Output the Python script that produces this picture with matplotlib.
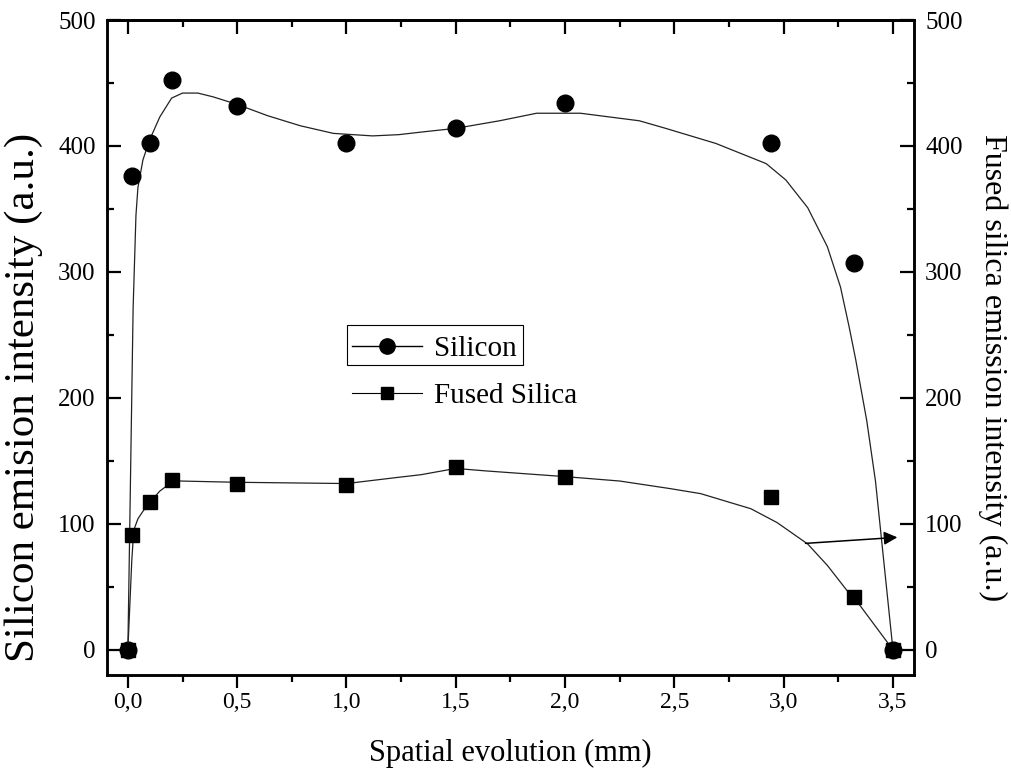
import numpy as np
import matplotlib.pyplot as plt
from matplotlib.lines import Line2D
from matplotlib.patches import Rectangle

plt.rcParams['font.family'] = ['Liberation Serif', 'DejaVu Serif']

# measured points
x_pts = [0.0, 0.02, 0.10, 0.20, 0.50, 1.0, 1.5, 2.0, 2.94, 3.32, 3.50]
silicon_pts = [0, 376, 402, 452, 432, 402, 414, 434, 402, 307, 0]
silica_pts = [0, 91, 117, 135, 132, 131, 145.5, 137.5, 121, 42, 0]

# smoothed curves
si_curve_x = [0.0, 0.014, 0.024, 0.037, 0.046, 0.069, 0.10, 0.146, 0.20, 0.25, 0.32, 0.39,
              0.50, 0.64, 0.79, 0.94, 1.12, 1.24, 1.34, 1.50, 1.70, 1.87, 2.07, 2.34,
              2.46, 2.69, 2.92, 3.01, 3.11, 3.20, 3.26, 3.30, 3.33, 3.38, 3.42, 3.46, 3.50]
si_curve_y = [0, 158, 271, 345, 367, 389, 405, 423, 438, 442, 442, 439,
              433, 424, 416, 410, 408, 409, 411, 414, 420, 426, 426, 420,
              414, 402, 386, 373, 351, 320, 288, 256, 230, 182, 134, 67, 0]

fs_curve_x = [0.0, 0.018, 0.027, 0.046, 0.069, 0.10, 0.146, 0.20, 0.24, 0.50, 1.0, 1.24,
              1.34, 1.50, 1.64, 2.0, 2.25, 2.48, 2.62, 2.85, 2.97, 3.11, 3.20, 3.29, 3.32, 3.50]
fs_curve_y = [0, 71, 95, 104, 110, 117, 126, 133, 134, 133, 132, 137,
              139, 144, 142, 137.5, 134, 128, 124, 112, 101, 84, 67, 47, 42, 0]

x_ticks = [0.0, 0.5, 1.0, 1.5, 2.0, 2.5, 3.0, 3.5]
x_ticklabels = ['0,0', '0,5', '1,0', '1,5', '2,0', '2,5', '3,0', '3,5']
y_ticks = [0, 100, 200, 300, 400, 500]

fig = plt.figure(figsize=(10.11, 7.79), dpi=100)
ax = fig.add_axes([0.1055, 0.1335, 0.7985, 0.8408])
ax2 = ax.twinx()

ax.plot(si_curve_x, si_curve_y, color='#222222', lw=0.9)
ax.plot(x_pts, silicon_pts, 'o', color='black', ms=12, zorder=3)
ax2.plot(fs_curve_x, fs_curve_y, color='#222222', lw=0.9)
ax2.plot(x_pts, silica_pts, 's', color='black', ms=9.5, zorder=3)

ax2.annotate('', xy=(3.52, 89.3), xytext=(3.10, 84.5),
             arrowprops=dict(arrowstyle='-|>', color='black', lw=1.1,
                             mutation_scale=20, shrinkA=0, shrinkB=0))

for a in (ax, ax2):
    a.set_xlim(-0.097, 3.596)
    a.set_ylim(-20, 500)
    a.set_yticks(y_ticks)
    a.set_yticks(np.arange(50, 500, 100), minor=True)

ax.set_xticks(x_ticks)
ax.set_xticklabels(x_ticklabels)
ax.set_xticks(np.arange(0.25, 3.5, 0.5), minor=True)

ax.tick_params(axis='x', which='major', direction='out', length=9, width=1.6, labelsize=17, pad=3)
ax.tick_params(axis='x', which='minor', direction='out', length=5, width=1.6)
ax.tick_params(axis='y', which='major', direction='in', length=10, width=1.6, labelsize=18, pad=8)
ax.tick_params(axis='y', which='minor', direction='in', length=5, width=1.6)
ax2.tick_params(axis='y', which='major', direction='in', length=10, width=1.6, labelsize=18, pad=8)
ax2.tick_params(axis='y', which='minor', direction='in', length=5, width=1.6)

top = ax.secondary_xaxis('top')
top.set_xticks(x_ticks)
top.set_xticks(np.arange(0.25, 3.5, 0.5), minor=True)
top.tick_params(axis='x', which='major', direction='in', length=10, width=1.6, labeltop=False)
top.tick_params(axis='x', which='minor', direction='in', length=5, width=1.6)

for a in (ax, ax2, top):
    for s in a.spines.values():
        s.set_linewidth(1.8)

ax.set_xlabel('Spatial evolution (mm)', fontsize=22, labelpad=19)
ax.set_ylabel('Silicon emision intensity (a.u.)', fontsize=31)
ax.yaxis.set_label_coords(-0.079, 0.424)
ax2.set_ylabel('Fused silica emission intensity (a.u.)', fontsize=23, rotation=270)
ax2.yaxis.set_label_coords(1.116, 0.47)

handles = [Line2D([], [], color='black', lw=1, marker='o', ms=11),
           Line2D([], [], color='black', lw=0.8, marker='s', ms=9)]
ax2.legend(handles, ['Silicon', 'Fused Silica'], loc='upper left', bbox_to_anchor=(0.304, 0.518),
           frameon=False, fontsize=21, handlelength=2.4, handletextpad=0.4, borderpad=0,
           borderaxespad=0, labelspacing=0.7)
ax2.add_patch(Rectangle((0.2977, 0.4733), 0.218, 0.061, transform=ax2.transAxes,
                        fill=False, lw=0.8, edgecolor='black'))

fig.savefig('out.png', dpi=100)
